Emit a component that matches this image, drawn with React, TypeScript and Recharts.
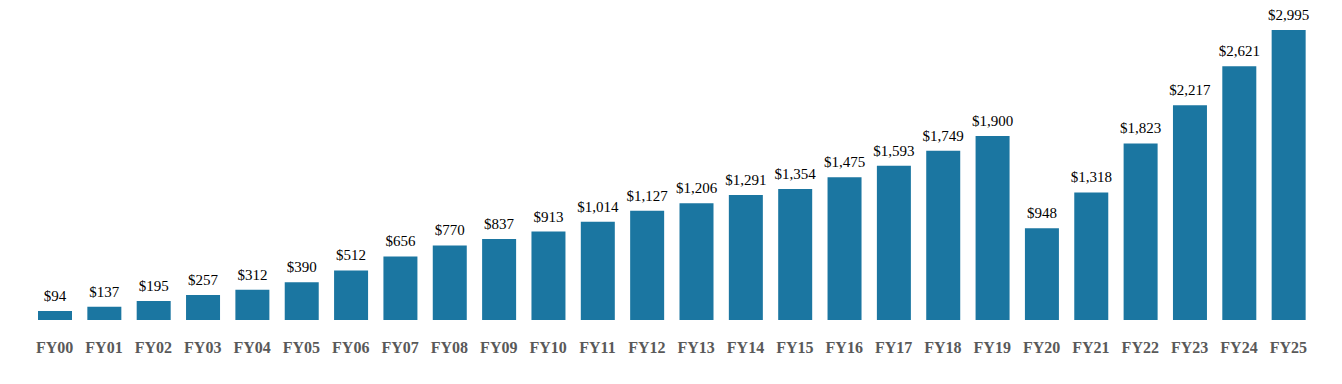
import { BarChart, Bar, XAxis, YAxis, LabelList } from 'recharts';

// fiscal years and revenue ($)
const years = [
  'FY00', 'FY01', 'FY02', 'FY03', 'FY04', 'FY05', 'FY06', 'FY07', 'FY08', 'FY09',
  'FY10', 'FY11', 'FY12', 'FY13', 'FY14', 'FY15', 'FY16', 'FY17', 'FY18', 'FY19',
  'FY20', 'FY21', 'FY22', 'FY23', 'FY24', 'FY25',
];
const revenue = [
  94, 137, 195, 257, 312, 390, 512, 656, 770, 837,
  913, 1014, 1127, 1206, 1291, 1354, 1475, 1593, 1749, 1900,
  948, 1318, 1823, 2217, 2621, 2995,
];

const data = years.map((year, i) => ({ year, value: revenue[i] }));

const BAR_COLOR = '#1b76a1';
const FONT = '"Liberation Serif", "Times New Roman", serif';

export default function App() {
  return (
    <div style={{ width: 1334, height: 376, fontFamily: FONT }}>
      <BarChart
        width={1334}
        height={376}
        data={data}
        margin={{ top: 22, right: 29, left: 22, bottom: 0 }}
        barSize={34}
      >
        <XAxis
          dataKey="year"
          axisLine={false}
          tickLine={false}
          tickSize={0}
          tickMargin={22}
          height={64}
          interval={0}
          tick={{ fill: '#595959', fontSize: 16, fontWeight: 'bold', fontFamily: FONT }}
        />
        <YAxis hide domain={[0, 2995]} />
        <Bar dataKey="value" fill={BAR_COLOR} isAnimationActive={false}>
          <LabelList
            dataKey="value"
            position="top"
            offset={10}
            formatter={(v: any) => `$${Number(v).toLocaleString('en-US')}`}
            style={{ fill: '#000000', fontSize: 15, fontFamily: FONT }}
          />
        </Bar>
      </BarChart>
    </div>
  );
}
